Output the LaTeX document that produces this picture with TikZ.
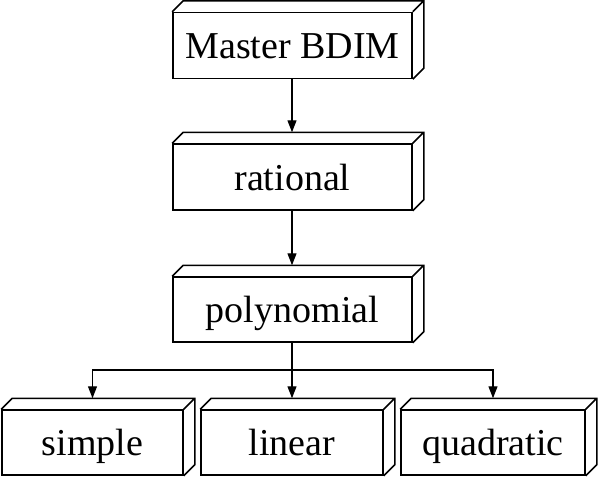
\documentclass[tikz,border=0pt]{standalone}
\usepackage{fontspec}
\setmainfont{Liberation Serif}
\usetikzlibrary{arrows.meta,calc}
\begin{document}
\begin{tikzpicture}[x=1pt,y=-1pt,
  box/.style={draw,line width=1.5pt,fill=white,inner sep=0pt,minimum height=66pt,
    text height=30pt,text depth=4pt,font=\fontsize{38}{40}\selectfont},
  topbox/.style={box,minimum width=239pt},
  lowbox/.style={box,minimum width=182pt,minimum height=65pt},
  arr/.style={line width=1.3pt,-{Triangle[length=12pt,width=9pt]}},
  face/.style={line width=1.5pt,line join=miter}]
\useasboundingbox (0,0) rectangle (600,480);
\node[topbox] (master) at (292.5,45.5) {Master BDIM};
\node[topbox] (rational) at (292.5,177) {rational};
\node[topbox,minimum height=65pt] (poly) at (292.5,309.5) {polynomial};
\node[lowbox,minimum width=181pt] (simple) at (92.5,442.5) {simple};
\node[lowbox] (linear) at (292,442.5) {linear};
\node[lowbox,minimum width=184pt] (quadratic) at (493,442.5) {quadratic};
\foreach \n/\d in {master/11,rational/11,poly/11,simple/11,linear/11,quadratic/11}{
  \draw[face] (\n.north west) -- ++(\d,-\d) -- ($(\n.north east)+(\d,-\d)$)
    -- ($(\n.south east)+(\d,-\d)$) -- (\n.south east)
    (\n.north east) -- ++(\d,-\d);
}
\coordinate (bus) at (292,370);
\draw[arr] (master.south -| bus) -- ($(rational.north -| bus)+(0,-11)$);
\draw[arr] (rational.south -| bus) -- ($(poly.north -| bus)+(0,-11)$);
\draw[arr] (poly.south -| bus) -- ($(linear.north)+(0,-11)$);
\draw[arr] (bus) -| ($(simple.north)+(0,-11)$);
\draw[arr] (bus) -| ($(quadratic.north)+(0,-11)$);
\end{tikzpicture}
\end{document}
